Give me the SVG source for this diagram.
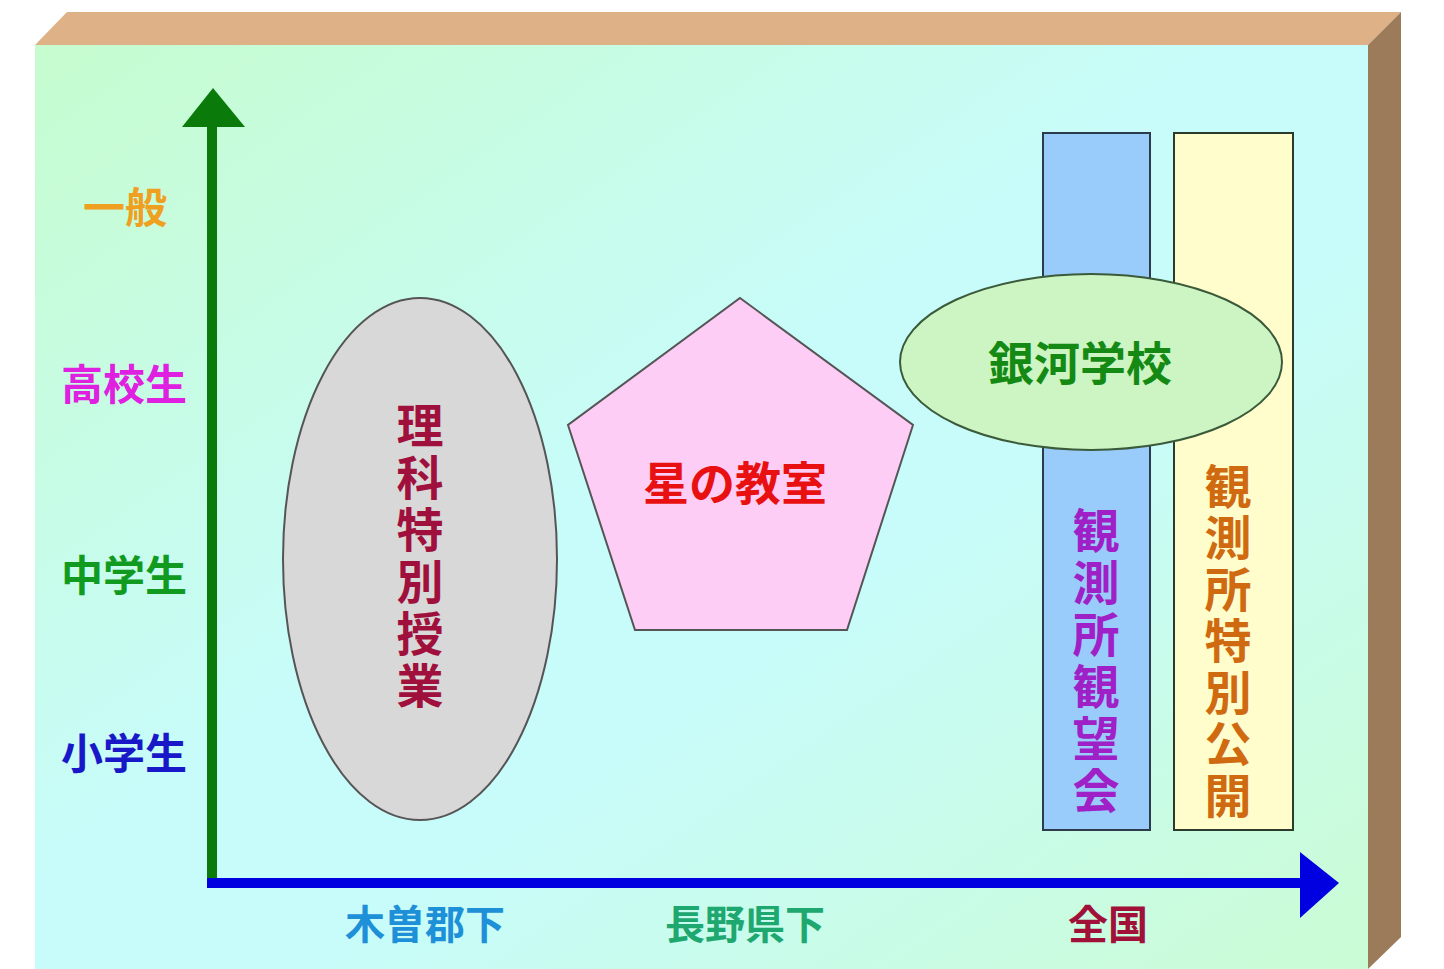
<svg xmlns="http://www.w3.org/2000/svg" width="1444" height="969" viewBox="0 0 1444 969">
  <defs>
    <linearGradient id="bg" x1="0" y1="0" x2="1" y2="1">
      <stop offset="0" stop-color="#c6fcce"/>
      <stop offset="0.45" stop-color="#c8fcfa"/>
      <stop offset="0.6" stop-color="#c8fcfa"/>
      <stop offset="1" stop-color="#cafcd4"/>
    </linearGradient>
    <style>
      text { font-family: "Noto Sans CJK JP", "Noto Sans CJK SC", sans-serif; font-weight: bold; dominant-baseline: central; text-anchor: middle; }
      .yl { font-size: 42px; }
      .xl { font-size: 40px; }
      .vt { font-size: 47px; writing-mode: vertical-rl; text-anchor: start; }
      .sh { stroke-width: 2; }
    </style>
  </defs>
  <rect width="1444" height="969" fill="#ffffff"/>
  <g id="box">
    <polygon points="35,45 67,12 1401,12 1368,45" fill="#dfb186"/>
    <polygon points="1368,45 1401,12 1401,937 1368,969" fill="#9c7b5a"/>
    <rect x="35" y="45" width="1333" height="924" fill="url(#bg)"/>
  </g>
  <g id="connectors">
    <line x1="212" y1="885" x2="212" y2="120" stroke="#0a7a0a" stroke-width="10"/>
    <polygon points="213,88 245,127 182,127" fill="#0a7a0a"/>
    <line x1="207" y1="883" x2="1305" y2="883" stroke="#0000e0" stroke-width="10"/>
    <polygon points="1339,883 1300,852 1300,918" fill="#0000e0"/>
  </g>
  <g id="ylabels">
    <text class="yl" x="125" y="204" fill="#f0a020">一般</text>
    <text class="yl" x="124" y="381" fill="#e020e0">高校生</text>
    <text class="yl" x="124" y="572" fill="#109a20">中学生</text>
    <text class="yl" x="124" y="750" fill="#1818c8">小学生</text>
  </g>
  <g id="xlabels">
    <text class="xl" x="425" y="922" fill="#1e90d8">木曽郡下</text>
    <text class="xl" x="745" y="922" fill="#1ea870">長野県下</text>
    <text class="xl" x="1108" y="922" fill="#a01038">全国</text>
  </g>
  <g id="node-rika">
    <ellipse cx="420" cy="559" rx="137" ry="261" fill="#d8d8d8" stroke="#555" class="sh"/>
    <text class="vt" x="420" y="401.5" letter-spacing="5" fill="#a0103c">理科特別授業</text>
  </g>
  <g id="node-hoshi">
    <polygon points="740,298 913,425 847,630 635,630 568,425" fill="#fdcdf6" stroke="#555" class="sh"/>
    <text x="735" y="480" font-size="46" fill="#e81010">星の教室</text>
  </g>
  <g id="node-kansokukai">
    <rect x="1043" y="133" width="107" height="697" fill="#99ccfa" stroke="#2c3c4c" class="sh"/>
    <text class="vt" x="1096" y="506.5" letter-spacing="5" fill="#a020c8">観測所観望会</text>
  </g>
  <g id="node-tokubetsu">
    <rect x="1174" y="133" width="119" height="697" fill="#fffdcc" stroke="#2c3c2c" class="sh"/>
    <text class="vt" x="1228" y="462.5" letter-spacing="4.5" fill="#d06a10">観測所特別公開</text>
  </g>
  <g id="node-ginga">
    <ellipse cx="1091" cy="362" rx="191" ry="88" fill="#cdf5c4" stroke="#3a5a3a" class="sh"/>
    <text x="1080" y="360" font-size="46" fill="#148a14">銀河学校</text>
  </g>
</svg>
